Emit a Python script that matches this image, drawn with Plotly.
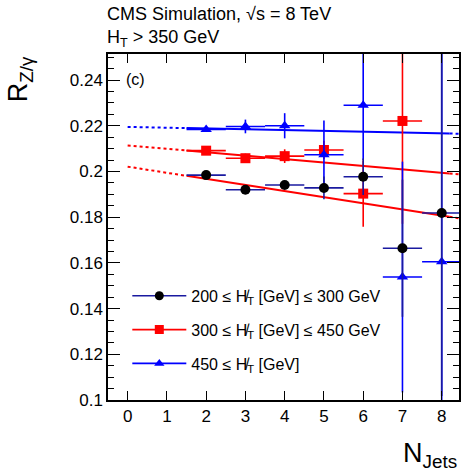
import plotly.graph_objects as go

# ---- data ----
n_jets = [2, 3, 4, 5, 6, 7, 8]
r_low = [0.1984, 0.1920, 0.1941, 0.1928, 0.1977, 0.1664, 0.1818]      # 200<=MHT<=300
r_low_err = [0.0015, 0.0015, 0.0015, 0.005, 0.008, 0.03, 0.08]
r_mid = [0.2091, 0.2058, 0.2067, 0.2094, 0.1903, 0.2221]              # 300<=MHT<=450
r_mid_err = [0.0015, 0.002, 0.003, 0.004, 0.0145, 0.045]
r_high = [0.2184, 0.2197, 0.2200, 0.2073, 0.2290, 0.1538, 0.1605]     # 450<=MHT
r_high_err = [0.001, 0.003, 0.0055, 0.015, 0.024, 0.0505, 0.1]
bin_half = 0.5

# fit lines: values at the two ends of the drawn range
fit_x_ends = [0.0, 8.44]
fit_low = [0.2021, 0.1795]
fit_mid = [0.2114, 0.1988]
fit_high = [0.2195, 0.2165]
solid_from, solid_to = 1.5, 8.2

labels = ["200 ≤ H̸<sub>T</sub> [GeV] ≤ 300 GeV",
          "300 ≤ H̸<sub>T</sub> [GeV] ≤ 450 GeV",
          "450 ≤ H̸<sub>T</sub> [GeV]"]

FONT = "Liberation Sans, Arial, sans-serif"
NAVY = "#1a1aa0"


def lin(ends, x):
    x0, x1 = fit_x_ends
    return ends[0] + (ends[1] - ends[0]) * (x - x0) / (x1 - x0)


fig = go.Figure()

for ends, col in [(fit_low, "red"), (fit_mid, "red"), (fit_high, "blue")]:
    xs_d1 = [fit_x_ends[0], solid_from]
    xs_s = [solid_from, solid_to]
    xs_d2 = [solid_to, fit_x_ends[1]]
    for xs, dash in [(xs_d1, "3px,3px"), (xs_s, "solid"), (xs_d2, "3px,3px")]:
        fig.add_trace(go.Scatter(x=xs, y=[lin(ends, v) for v in xs], mode="lines",
                                 line=dict(color=col, width=2, dash=dash),
                                 showlegend=False, hoverinfo="skip"))


def pts(y, yerr, mcol, ecol, sym, size):
    xs = n_jets[:len(y)]
    return go.Scatter(x=xs, y=y, mode="markers",
                      marker=dict(color=mcol, symbol=sym, size=size),
                      error_y=dict(type="data", array=yerr, color=ecol, thickness=1.6, width=0),
                      error_x=dict(type="constant", value=bin_half, color=ecol, thickness=1.6, width=0),
                      showlegend=False, cliponaxis=True)


fig.add_trace(pts(r_mid, r_mid_err, "red", "red", "square", 10))
fig.add_trace(pts(r_high, r_high_err, "blue", "blue", "triangle-up", 10))
fig.add_trace(pts(r_low, r_low_err, "black", NAVY, "circle", 10))

# legend entries
for lab, mcol, lcol, sym, g in [(labels[0], "black", NAVY, "circle", "a"),
                                (labels[1], "red", "red", "square", "b"),
                                (labels[2], "blue", "blue", "triangle-up", "c")]:
    fig.add_trace(go.Scatter(x=[None], y=[None], mode="lines+markers", name=lab,
                             legendgroup=g,
                             marker=dict(color=mcol, symbol=sym, size=9),
                             line=dict(color=lcol, width=1.6)))

ax_common = dict(showline=True, linecolor="black", linewidth=1.5, mirror="ticks",
                 ticks="inside", tickcolor="black", showgrid=False, zeroline=False,
                 tickfont=dict(family=FONT, size=17, color="black"))

fig.update_layout(
    width=461, height=473,
    margin=dict(l=108, r=0, t=54, b=73),
    plot_bgcolor="white", paper_bgcolor="white",
    xaxis=dict(range=[-0.5, 8.44], tickmode="array", tickvals=list(range(0, 9)),
               ticklen=9, **ax_common),
    yaxis=dict(range=[0.1, 0.2514], tickmode="array",
               tickvals=[0.1, 0.12, 0.14, 0.16, 0.18, 0.2, 0.22, 0.24],
               ticktext=["0.1", "0.12", "0.14", "0.16", "0.18", "0.2", "0.22", "0.24"],
               ticklen=12, minor=dict(dtick=0.005, tick0=0.1, ticklen=6, ticks="inside",
                                      tickcolor="black"),
               **ax_common),
    legend=dict(x=0.055, y=0.35, xanchor="left", yanchor="top",
                bgcolor="rgba(0,0,0,0)", font=dict(family=FONT, size=16, color="black"),
                traceorder="grouped", tracegroupgap=10, itemwidth=54),
    showlegend=True,
    annotations=[
        dict(text="CMS Simulation, √s = 8 TeV", x=105, y=473 - 14, xref="paper", yref="paper",
             showarrow=False, xanchor="left", yanchor="middle",
             font=dict(family=FONT, size=18, color="black")),
        dict(text="H<sub>T</sub> > 350 GeV", x=105, y=473 - 38, xref="paper", yref="paper",
             showarrow=False, xanchor="left", yanchor="middle",
             font=dict(family=FONT, size=18, color="black")),
        dict(text="(c)", x=0.045, y=0.925, xref="paper", yref="paper", showarrow=False,
             xanchor="left", yanchor="middle", font=dict(family=FONT, size=16, color="black")),
        dict(text="R<sub>Z/γ</sub>", x=-0.25, y=1.0, xref="paper", yref="paper", showarrow=False,
             textangle=-90, xanchor="center", yanchor="top",
             font=dict(family=FONT, size=27, color="black")),
        dict(text="N<sub>Jets</sub>", x=1.0, y=-0.105, xref="paper", yref="paper", showarrow=False,
             xanchor="right", yanchor="top", font=dict(family=FONT, size=27, color="black")),
    ],
)

# header texts: convert pixel positions to paper coords
pw, ph = 461 - 108, 473 - 54 - 73
for a in fig.layout.annotations[:2]:
    a.x = (a.x - 108) / pw
    a.y = (a.y - 73) / ph

fig.write_html("out.html")
